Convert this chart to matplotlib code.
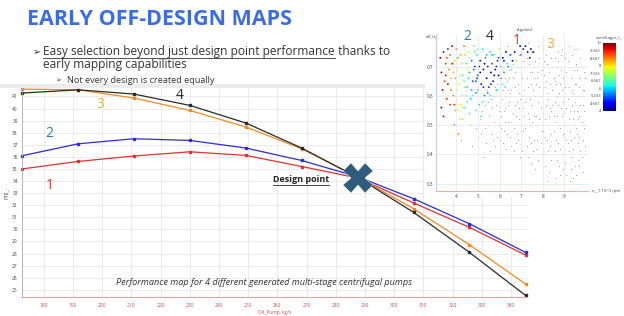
import matplotlib
matplotlib.use("Agg")
import matplotlib.pyplot as plt
from matplotlib.lines import Line2D
from matplotlib.patches import Rectangle

W, H = 624, 316

# ---- main chart data ----
flow = [172.5, 191.7, 210.8, 230.0, 249.2, 268.3, 287.5, 306.7, 325.8, 345.0]
pump1 = [35.00, 35.62, 36.07, 36.42, 36.12, 35.20, 34.25, 32.18, 30.16, 27.87]
pump2 = [36.09, 37.08, 37.50, 37.36, 36.73, 35.70, 34.35, 32.53, 30.46, 28.09]
pump3 = [41.61, 41.55, 40.87, 39.84, 38.47, 36.67, 34.30, 31.70, 28.72, 25.47]
pump4 = [41.28, 41.55, 41.20, 40.26, 38.80, 36.73, 34.30, 31.40, 28.09, 24.53]
design_point = (287.5, 34.27)
x_ticks = list(range(180, 341, 10))
y_ticks = list(range(25, 42))

# ---- inset scatter data: (speed, efficiency, stages) ----
colored_pts = [
    (3.25, .73, 10), (3.3, .68, 9.8), (3.35, .62, 9.5), (3.3, .56, 10), (3.4, .53, 9.7),
    (3.5, .71, 9.2), (3.45, .65, 9.0), (3.6, .76, 9.6), (3.7, .74, 8.9), (3.55, .59, 9.3),
    (3.65, .69, 8.6), (3.8, .77, 9.9), (3.75, .66, 8.2), (3.85, .60, 8.8), (3.9, .72, 8.0),
    (3.7, .57, 9.1), (3.95, .55, 8.4), (4.0, .76, 9.4), (4.05, .69, 7.8), (4.1, .64, 7.5),
    (4.0, .58, 8.0), (4.15, .52, 7.2), (4.2, .74, 8.3), (4.25, .60, 7.0), (4.3, .67, 6.8),
    (4.35, .77, 8.7), (4.4, .56, 6.5), (4.45, .71, 6.6), (4.5, .63, 6.2), (4.55, .75, 7.4),
    (4.6, .68, 5.8), (4.65, .59, 6.0), (4.7, .72, 5.5), (4.75, .65, 5.2), (4.8, .77, 6.9),
    (4.85, .70, 5.0), (4.9, .61, 5.6), (4.95, .74, 6.3), (5.0, .67, 4.6), (5.05, .57, 5.9),
    (5.1, .72, 4.9), (5.15, .64, 4.3), (5.2, .76, 6.4), (5.25, .69, 4.5), (5.3, .60, 5.4),
    (5.35, .73, 5.7), (5.4, .66, 4.2), (5.45, .70, 4.8), (5.5, .63, 5.1), (5.55, .75, 6.1),
    (5.6, .68, 4.1), (5.65, .71, 5.3), (5.7, .65, 4.4), (5.75, .74, 6.7), (5.8, .69, 4.7),
    (5.85, .62, 6.0), (5.9, .72, 5.0), (5.95, .67, 4.0), (6.0, .76, 7.1), (6.05, .70, 5.5),
    (6.1, .64, 6.5), (6.15, .73, 4.6), (6.2, .68, 5.8), (6.3, .75, 4.3), (6.35, .71, 6.2),
    (6.45, .66, 7.3), (6.5, .74, 5.2), (6.55, .69, 6.8), (6.7, .75, 4.5), (6.8, .72, 7.0),
    (6.95, .77, 4.2), (7.1, .76, 4.8), (7.3, .75, 4.4), (7.45, .76, 4.1), (3.9, .50, 9.0),
    (4.1, .47, 8.5), (4.3, .52, 7.6), (4.6, .54, 6.4), (4.2, .57, 7.9), (3.6, .64, 9.7),
    (4.45, .60, 6.9), (4.7, .62, 5.9), (5.2, .58, 6.6), (4.95, .66, 5.1), (4.35, .65, 7.1),
    (3.95, .66, 8.5), (3.8, .71, 9.5), (4.5, .69, 7.7), (4.9, .55, 6.7), (5.55, .60, 6.3),
    (5.05, .70, 4.4), (3.4, .75, 9.9), (3.5, .67, 9.4), (3.55, .73, 9.1), (3.75, .62, 8.7),
    (3.85, .68, 8.3), (3.9, .57, 9.2), (4.0, .62, 8.2), (4.05, .73, 8.8), (4.1, .55, 7.6),
    (4.15, .67, 7.3), (4.25, .71, 7.9), (4.3, .56, 7.4), (4.4, .63, 6.8), (4.4, .74, 8.1),
    (4.5, .58, 6.6), (4.55, .66, 6.1), (4.6, .73, 7.2), (4.65, .50, 6.9), (4.75, .60, 6.3),
    (4.8, .69, 5.4), (4.85, .75, 6.6), (4.9, .65, 5.3), (5.0, .62, 5.7), (5.0, .76, 6.8),
    (5.1, .68, 4.6), (5.15, .53, 6.2), (5.25, .63, 5.0), (5.3, .71, 4.4), (5.4, .74, 5.9),
    (5.45, .61, 5.6), (5.6, .64, 4.9), (5.65, .74, 5.8), (5.75, .67, 4.3), (5.85, .70, 4.5),
    (5.95, .73, 5.3), (6.05, .66, 4.9), (6.2, .72, 4.7), (6.25, .63, 6.4), (6.4, .70, 5.6),
    (6.6, .72, 4.6), (6.65, .66, 6.9), (7.0, .74, 4.9), (7.2, .77, 4.4), (7.55, .75, 4.3),
    (7.4, .73, 4.6),
]
gray_pts = [
    (5.0, .46), (5.1, .52), (5.2, .55), (5.3, .49), (5.35, .44), (5.45, .58), (5.5, .53), (5.4, .62),
    (5.6, .47), (5.65, .56), (5.7, .60), (5.75, .51), (5.8, .43), (5.85, .57), (5.9, .64), (5.95, .50),
    (5.55, .41), (6.0, .45), (6.05, .53), (6.1, .59), (6.15, .62), (6.2, .48), (6.25, .56), (6.3, .42),
    (6.35, .65), (6.4, .51), (6.45, .58), (6.5, .46), (6.3, .60), (6.1, .40), (6.55, .62), (6.6, .54),
    (6.65, .49), (6.7, .68), (6.75, .44), (6.8, .58), (6.85, .64), (6.9, .52), (6.95, .39), (6.6, .71),
    (6.7, .57), (6.8, .47), (6.9, .61), (7.0, .55), (6.65, .41), (7.05, .66), (7.1, .48), (7.15, .70),
    (7.2, .58), (7.25, .43), (7.3, .63), (7.35, .52), (7.4, .68), (7.45, .37), (7.5, .57), (7.05, .60),
    (7.15, .53), (7.25, .73), (7.35, .46), (7.45, .64), (7.2, .40), (7.4, .50), (7.1, .72), (7.55, .70),
    (7.6, .45), (7.65, .60), (7.7, .53), (7.75, .66), (7.8, .38), (7.85, .73), (7.9, .56), (7.95, .48),
    (7.55, .62), (7.65, .35), (7.75, .50), (7.85, .63), (7.95, .69), (7.6, .75), (7.7, .42), (7.8, .58),
    (7.9, .44), (8.0, .61), (7.5, .51), (8.05, .67), (8.1, .52), (8.15, .74), (8.2, .45), (8.25, .59),
    (8.3, .34), (8.35, .64), (8.4, .55), (8.45, .70), (8.5, .48), (8.05, .40), (8.15, .57), (8.25, .50),
    (8.35, .43), (8.45, .62), (8.1, .63), (8.2, .71), (8.3, .53), (8.4, .38), (8.5, .66), (8.0, .76),
    (8.45, .57), (8.55, .73), (8.6, .51), (8.65, .60), (8.7, .44), (8.75, .67), (8.8, .33), (8.85, .56),
    (8.9, .62), (8.95, .47), (9.0, .70), (8.55, .41), (8.65, .53), (8.75, .36), (8.85, .69), (8.95, .58),
    (8.6, .64), (8.7, .75), (8.8, .49), (8.9, .40), (9.0, .54), (8.55, .58), (8.75, .61), (9.05, .63),
    (9.1, .45), (9.15, .72), (9.2, .52), (9.25, .31), (9.3, .66), (9.35, .57), (9.4, .42), (9.45, .69),
    (9.5, .50), (9.05, .37), (9.15, .59), (9.25, .48), (9.35, .74), (9.45, .55), (9.1, .68), (9.2, .41),
    (9.3, .35), (9.4, .61), (9.5, .64), (9.0, .46), (9.55, .71), (9.6, .47), (9.65, .60), (9.7, .53),
    (9.75, .66), (9.8, .39), (9.85, .57), (9.9, .49), (9.55, .33), (9.65, .44), (9.75, .73), (9.85, .62),
    (9.9, .68), (9.6, .55), (9.7, .36), (9.8, .51), (9.95, .43), (9.6, .30), (6.4, .77), (6.9, .74),
    (7.3, .78), (7.8, .77), (8.3, .77), (8.7, .72), (9.2, .77), (9.6, .76), (8.9, .76), (4.2, .45),
    (4.7, .43), (4.9, .49), (5.25, .39),
    (5.15, .47), (5.3, .57), (5.45, .50), (5.6, .59), (5.7, .45), (5.8, .63), (5.9, .46), (6.0, .58),
    (6.05, .49), (6.15, .44), (6.2, .55), (6.25, .66), (6.35, .47), (6.4, .57), (6.45, .69), (6.5, .61),
    (6.55, .43), (6.6, .50), (6.7, .63), (6.75, .53), (6.8, .70), (6.85, .45), (6.95, .59), (7.0, .48),
    (7.0, .67), (7.05, .41), (7.1, .56), (7.15, .62), (7.2, .49), (7.25, .66), (7.3, .54), (7.3, .39),
    (7.35, .71), (7.4, .59), (7.45, .44), (7.5, .68), (7.55, .41), (7.6, .53), (7.65, .72), (7.7, .64),
    (7.75, .45), (7.8, .68), (7.85, .52), (7.9, .60), (7.95, .40), (8.0, .54), (8.05, .72), (8.1, .46),
    (8.1, .36), (8.15, .65), (8.2, .61), (8.25, .41), (8.3, .68), (8.35, .56), (8.4, .73), (8.4, .47),
    (8.5, .53), (8.5, .40), (8.55, .65), (8.6, .45), (8.65, .70), (8.65, .38), (8.7, .57), (8.75, .50),
    (8.8, .64), (8.8, .42), (8.85, .74), (8.9, .53), (8.95, .66), (8.95, .35), (9.0, .60), (9.05, .50),
    (9.05, .73), (9.1, .56), (9.1, .33), (9.15, .44), (9.2, .63), (9.25, .70), (9.25, .55), (9.3, .45),
    (9.35, .62), (9.35, .39), (9.4, .52), (9.45, .46), (9.45, .76), (9.5, .58), (9.5, .36), (9.55, .64),
    (9.55, .49), (9.6, .69), (9.65, .52), (9.65, .38), (9.7, .63), (9.7, .46), (9.75, .57), (9.75, .41),
    (9.8, .70), (9.8, .60), (9.85, .45), (9.85, .34), (9.9, .55), (9.9, .62), (9.95, .50), (9.95, .66),
    (8.2, .31), (8.6, .32), (9.0, .31), (9.4, .32), (8.0, .48), (7.6, .66), (6.9, .56), (6.4, .62),
    (6.25, .51), (5.95, .55),
]
cbar_ticks = [4, 4.667, 5.333, 6, 6.667, 7.333, 8, 8.667, 9.333, 10]
cbar_labels = ["4", "4.667", "5.333", "6", "6.667", "7.333", "8", "8.667", "9.333", "10"]
inset_xticks = [4, 5, 6, 7, 8, 9]
inset_yticks = [0.3, 0.4, 0.5, 0.6, 0.7]

RED, BLUE, ORANGE, BLACK = "#e2302f", "#2b2bdc", "#f28a1e", "#2a2a2a"
LBL_BLUE, LBL_ORANGE = "#2e78b8", "#f6b233"
TICK_RED = "#c0504d"
TXT = "#333333"
FONT = ["Open Sans", "DejaVu Sans"]


def fx(x):
    return x / W


def fy(y):
    return 1 - y / H


def main():
    plt.rcParams["font.family"] = FONT
    fig = plt.figure(figsize=(W / 100, H / 100), dpi=100)
    fig.patch.set_facecolor("white")
    r = fig.canvas.get_renderer()

    # slide header
    fig.text(fx(27), fy(25), "EARLY OFF-DESIGN MAPS", fontsize=15.5, fontweight="bold",
             color="#3b6ce6", va="baseline", ha="left")
    fig.text(fx(33), fy(55), "➢", fontsize=7, color=TXT, va="baseline", family=["DejaVu Sans"])
    t = fig.text(fx(43), fy(55), "Easy selection beyond just design point performance",
                 fontsize=8.6, color=TXT, va="baseline")
    bb = t.get_window_extent(renderer=r)
    fig.add_artist(Line2D([bb.x0 / W, bb.x1 / W], [fy(57.5), fy(57.5)], color=TXT, lw=0.6))
    fig.text(bb.x1 / W, fy(55), " thanks to", fontsize=8.6, color=TXT, va="baseline")
    fig.text(fx(43), fy(68), "early mapping capabilities", fontsize=8.6, color=TXT, va="baseline")
    fig.text(fx(55), fy(82.5), "➢", fontsize=5, color=TXT, va="baseline", family=["DejaVu Sans"])
    fig.text(fx(67), fy(82.5), "Not every design is created equally", fontsize=6.6,
             color=TXT, va="baseline")

    # gray header band of the chart panel
    fig.add_artist(Rectangle((0, fy(88)), fx(425), 4 / H, color="#ececec", lw=0))

    # main chart
    ax = fig.add_axes([fx(22), fy(297), fx(527 - 22), (297 - 88) / H])
    for ys, c in [(pump1, RED), (pump2, BLUE), (pump3, ORANGE), (pump4, BLACK)]:
        ax.plot(flow, ys, color=c, lw=0.9, marker="s", ms=1.6, clip_on=False)
    ax.plot(*design_point, marker="X", ms=21, color="#2f5b7c", mec="white", mew=0.3, zorder=5)
    ax.set_xlim(172.5, 345.5)
    ax.set_ylim(24.4, 41.7)
    ax.set_xticks(x_ticks)
    ax.set_yticks(y_ticks)
    ax.tick_params(axis="x", labelsize=3.5, labelcolor=TICK_RED, length=0, pad=4)
    ax.tick_params(axis="y", labelsize=3.5, labelcolor="#444", length=0, pad=3)
    ax.grid(color="#e3e3e3", lw=0.5)
    for s in ("top", "right"):
        ax.spines[s].set_visible(False)
    ax.spines["left"].set_color("#aaaaaa")
    ax.spines["left"].set_linewidth(0.6)
    ax.spines["bottom"].set_color("#e8a0a0")
    ax.spines["bottom"].set_linewidth(0.8)
    ax.set_xlabel("Oil_Pump, kg/s", fontsize=3.5, color=TICK_RED, labelpad=2)
    ax.set_ylabel("PTR_-", fontsize=3.5, color="#444", labelpad=2)

    ax.text(182, 33.6, "1", fontsize=10, color=RED, ha="center", va="center")
    ax.text(182, 37.9, "2", fontsize=10, color=LBL_BLUE, ha="center", va="center")
    ax.text(199.2, 40.3, "3", fontsize=10, color=LBL_ORANGE, ha="center", va="center")
    ax.text(226.6, 41.1, "4", fontsize=10, color=BLACK, ha="center", va="center")
    dp = ax.text(268, 34.1, "Design point", fontsize=6.5, fontweight="bold", color="#222",
                 ha="center", va="center")
    ax.text(255.3, 25.58, "Performance map for 4 different generated multi-stage centrifugal pumps",
            fontsize=6.6, style="italic", color=TXT, ha="center", va="center")
    bb = dp.get_window_extent(renderer=r)
    fig.add_artist(Line2D([bb.x0 / W, bb.x1 / W], [(bb.y0 - 0.5) / H] * 2, color="#222", lw=0.6))

    # white box behind the inset
    fig.add_artist(Rectangle((fx(425), fy(197)), 1 - fx(425), (197 - 20) / H,
                             color="white", lw=0, zorder=2))

    # inset scatter
    ins = fig.add_axes([fx(436), fy(191), fx(152), 156 / H], zorder=3)
    gx, gy = zip(*gray_pts)
    ins.scatter(gx, gy, s=0.8, color="#a9a9a9", lw=0)
    cx, cy, cs = zip(*colored_pts)
    sc = ins.scatter(cx, cy, c=cs, cmap="jet", vmin=4, vmax=10, s=1.8, lw=0)
    ins.set_xlim(3.05, 10.1)
    ins.set_ylim(0.275, 0.808)
    ins.set_xticks(inset_xticks)
    ins.set_yticks(inset_yticks)
    ins.tick_params(labelsize=3.3, length=0, pad=2, labelcolor="#444")
    ins.grid(color="#e6e6e6", lw=0.5)
    for s in ("top", "right"):
        ins.spines[s].set_visible(False)
    ins.spines["left"].set_color("#c8c8f0")
    ins.spines["bottom"].set_color("#f0b0b0")
    fig.text(fx(426), fy(36), "eff_tt_-", fontsize=3, color="#444", va="center")
    fig.text(fx(524), fy(30), "Applied", fontsize=3, color="#444", ha="center", va="center")
    fig.text(fx(592), fy(191), "n__1.10^3 rpm", fontsize=3, color="#444", va="center")

    cax = fig.add_axes([fx(603), fy(111), fx(13), (111 - 43) / H], zorder=3)
    cb = fig.colorbar(sc, cax=cax, ticks=cbar_ticks)
    cb.ax.yaxis.set_ticks_position("left")
    cb.ax.set_yticklabels(cbar_labels)
    cb.ax.tick_params(labelsize=3, length=0, pad=1.5, labelcolor="#444")
    cb.outline.set_visible(False)
    fig.text(fx(609), fy(38), "numStages_l_-", fontsize=3, color="#444", ha="center", va="center")

    fig.text(fx(467), fy(37), "2", fontsize=10, color=LBL_BLUE, ha="center", va="center", zorder=4)
    fig.text(fx(490), fy(37), "4", fontsize=10, color=BLACK, ha="center", va="center", zorder=4)
    fig.text(fx(517), fy(40), "1", fontsize=10, color=RED, ha="center", va="center", zorder=4)
    fig.text(fx(550), fy(44), "3", fontsize=10, color=LBL_ORANGE, ha="center", va="center", zorder=4)

    fig.savefig("out.png", dpi=100)


if __name__ == "__main__":
    main()
